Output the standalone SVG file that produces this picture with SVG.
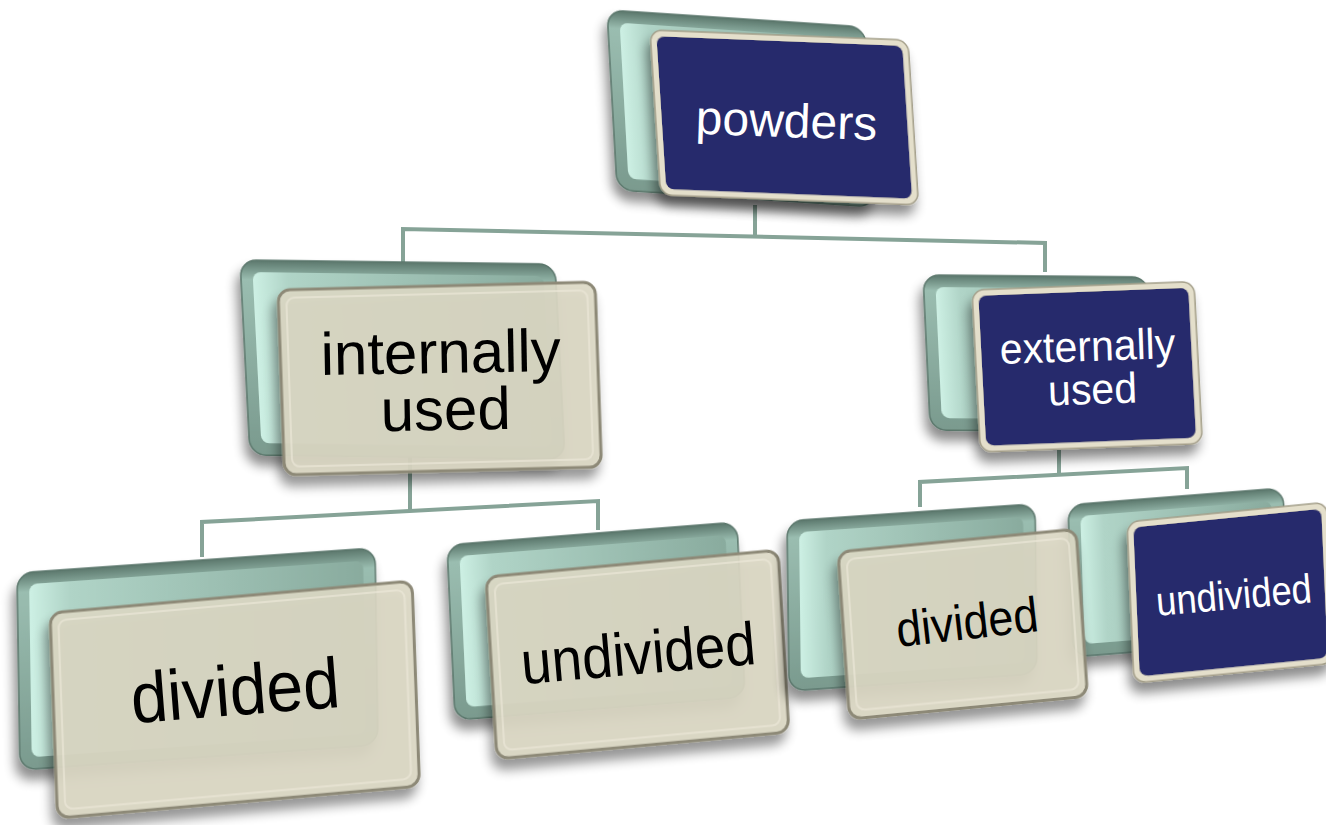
<svg xmlns="http://www.w3.org/2000/svg" width="1326" height="825" viewBox="0 0 1326 825">
<defs>
  <linearGradient id="gBo" x1="0" y1="0" x2="0" y2="1">
    <stop offset="0" stop-color="#5b776c"/>
    <stop offset="0.1" stop-color="#9abdb0"/>
    <stop offset="1" stop-color="#7a9a8e"/>
  </linearGradient>
  <linearGradient id="gBi" x1="0" y1="0" x2="1" y2="0">
    <stop offset="0" stop-color="#cdf0e4"/>
    <stop offset="0.12" stop-color="#b0d4c7"/>
    <stop offset="1" stop-color="#89ab9e"/>
  </linearGradient>
  <filter id="sh" x="-20%" y="-20%" width="150%" height="150%">
    <feGaussianBlur in="SourceAlpha" stdDeviation="6"/>
    <feOffset dx="-4" dy="10" result="b"/>
    <feComponentTransfer><feFuncA type="linear" slope="0.45"/></feComponentTransfer>
    <feMerge><feMergeNode/><feMergeNode in="SourceGraphic"/></feMerge>
  </filter>
  <style>
    .conn{fill:none;stroke:#86a397;stroke-width:4}
    .bo{fill:url(#gBo);stroke:#5a766b;stroke-width:1.5}
    .bi{fill:url(#gBi)}
    .fnb{fill:#e4dfcb;stroke:#a39e89;stroke-width:1.5}
    .fn{fill:#272a6c}
    .fb{fill:#dcd8c4;fill-opacity:0.9;stroke:#8d8977;stroke-width:3}
    .fbh{fill:none;stroke:#eeeadb;stroke-width:2;opacity:0.6}
    .t{font-family:"Liberation Sans",Arial,sans-serif;text-anchor:middle}
    .tw{fill:#ffffff}
    .tk{fill:#000000}
  </style>
</defs>

<g id="connectors">
  <path class="conn" d="M755,205 V237"/>
  <path class="conn" d="M403,262 L403,229 L1045,243 L1045,272"/>
  <path class="conn" d="M410,440 V511"/>
  <path class="conn" d="M202,557 L202,522 L598,501 L598,530"/>
  <path class="conn" d="M1059,450 V475"/>
  <path class="conn" d="M920,507 L920,482 L1187,468 L1187,489"/>
</g>

<g id="node-powders">
  <g transform="matrix(1,0.066,0.056,1,607,10)" filter="url(#sh)">
    <rect class="bo" width="258" height="180" rx="16"/>
    <rect class="bi" x="12" y="12" width="234" height="156" rx="8"/>
  </g>
  <g transform="matrix(1,0.039,0.064,1,650,30)" filter="url(#sh)">
    <rect class="fnb" width="258" height="165" rx="12"/>
    <rect class="fn" x="6" y="6" width="246" height="153" rx="8"/>
  </g>
  <text class="t tw" font-size="48" transform="translate(786,137) rotate(2)">powders</text>
</g>

<g id="node-internally-used">
  <g transform="matrix(1,0.013,0.051,1,240,260)" filter="url(#sh)">
    <rect class="bo" width="315" height="195" rx="16"/>
    <rect class="bi" x="12" y="12" width="291" height="171" rx="8"/>
  </g>
  <g transform="matrix(1,-0.025,0.035,1,278,290)" filter="url(#sh)">
    <rect class="fb" width="317" height="185" rx="12"/>
    <rect class="fbh" x="8" y="8" width="301" height="169" rx="8"/>
  </g>
  <text class="t tk" font-size="60" transform="translate(441,373) rotate(-1)">internally</text>
  <text class="t tk" font-size="60" transform="translate(446,430) rotate(-1)">used</text>
</g>

<g id="node-externally-used">
  <g transform="matrix(1,0.009,0.047,1,923,275)" filter="url(#sh)">
    <rect class="bo" width="225" height="155" rx="16"/>
    <rect class="bi" x="12" y="12" width="201" height="131" rx="8"/>
  </g>
  <g transform="matrix(1,-0.038,0.052,1,972,290)" filter="url(#sh)">
    <rect class="fnb" width="222" height="162" rx="12"/>
    <rect class="fn" x="6" y="6" width="210" height="150" rx="8"/>
  </g>
  <text class="t tw" font-size="41" transform="translate(1088,361) rotate(-2) scale(1,1.05)">externally</text>
  <text class="t tw" font-size="41" transform="translate(1093,404) rotate(-2) scale(1,1.05)">used</text>
</g>

<g id="node-divided-internal">
  <g transform="matrix(1,-0.07,0.015,1,17,573)" filter="url(#sh)">
    <rect class="bo" width="358" height="197" rx="16"/>
    <rect class="bi" x="12" y="12" width="334" height="173" rx="8"/>
  </g>
  <g transform="matrix(1,-0.0885,0.0366,1,50,613)" filter="url(#sh)">
    <rect class="fb" width="362" height="205" rx="12"/>
    <rect class="fbh" x="8" y="8" width="346" height="189" rx="8"/>
  </g>
  <text class="t tk" font-size="66" transform="translate(237,715) rotate(-4.5) scale(1,1.08)">divided</text>
</g>

<g id="node-undivided-internal">
  <g transform="matrix(1,-0.079,0.046,1,447,545)" filter="url(#sh)">
    <rect class="bo" width="290" height="175" rx="16"/>
    <rect class="bi" x="12" y="12" width="266" height="151" rx="8"/>
  </g>
  <g transform="matrix(1,-0.092,0.06,1,486,577)" filter="url(#sh)">
    <rect class="fb" width="292" height="182" rx="12"/>
    <rect class="fbh" x="8" y="8" width="276" height="166" rx="8"/>
  </g>
  <text class="t tk" font-size="55" transform="translate(640,674) rotate(-5) scale(1,1.1)">undivided</text>
</g>

<g id="node-undivided-external">
  <g transform="matrix(1,-0.079,0.033,1,1068,505)" filter="url(#sh)">
    <rect class="bo" width="215" height="152" rx="16"/>
    <rect class="bi" x="12" y="12" width="191" height="128" rx="8"/>
  </g>
  <g transform="matrix(1,-0.099,0.0435,1,1127,522)" filter="url(#sh)">
    <rect class="fnb" width="200" height="161" rx="12"/>
    <rect class="fn" x="6" y="6" width="188" height="149" rx="8"/>
  </g>
  <text class="t tw" font-size="36.5" transform="translate(1235,609) rotate(-5) scale(1,1.12)">undivided</text>
</g>

<g id="node-divided-external">
  <g transform="matrix(1,-0.069,0.012,1,787,521)" filter="url(#sh)">
    <rect class="bo" width="248" height="170" rx="16"/>
    <rect class="bi" x="12" y="12" width="224" height="146" rx="8"/>
  </g>
  <g transform="matrix(1,-0.096,0.069,1,838,552)" filter="url(#sh)">
    <rect class="fb" width="238" height="167" rx="12"/>
    <rect class="fbh" x="8" y="8" width="222" height="151" rx="8"/>
  </g>
  <text class="t tk" font-size="45" transform="translate(969,639) rotate(-6.5) scale(1,1.1)">divided</text>
</g>
</svg>
